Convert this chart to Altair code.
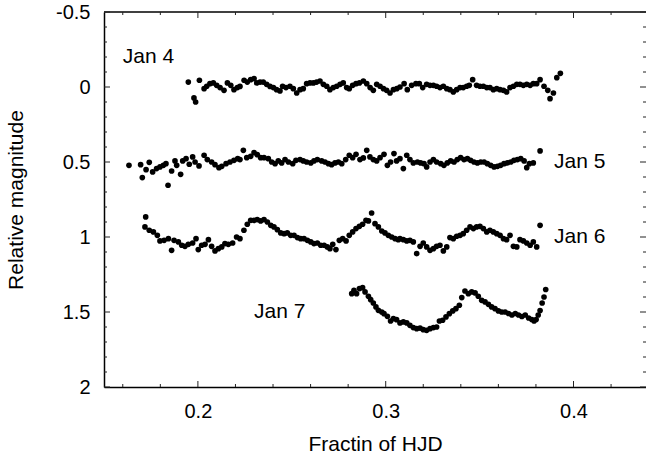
import altair as alt
import pandas as pd

FONT = "Liberation Sans"
W, H = 542, 375

# ---------------- data ----------------
jan4_x = [0.1949, 0.1979, 0.1988, 0.2008, 0.2033, 0.2047, 0.2064, 0.2082, 0.2100, 0.2118, 0.2139, 0.2157, 0.2175, 0.2192, 0.2210, 0.2224, 0.2246, 0.2263, 0.2281, 0.2299, 0.2313, 0.2331, 0.2348, 0.2366, 0.2384, 0.2402, 0.2419, 0.2437, 0.2451, 0.2469, 0.2490, 0.2508, 0.2526, 0.2544, 0.2561, 0.2579, 0.2597, 0.2615, 0.2632, 0.2650, 0.2668, 0.2686, 0.2703, 0.2721, 0.2739, 0.2757, 0.2774, 0.2792, 0.2806, 0.2824, 0.2842, 0.2860, 0.2881, 0.2899, 0.2917, 0.2934, 0.2952, 0.2970, 0.2988, 0.3005, 0.3023, 0.3041, 0.3059, 0.3076, 0.3098, 0.3115, 0.3138, 0.3161, 0.3179, 0.3197, 0.3218, 0.3236, 0.3254, 0.3271, 0.3289, 0.3307, 0.3325, 0.3342, 0.3360, 0.3378, 0.3396, 0.3413, 0.3431, 0.3445, 0.3463, 0.3484, 0.3502, 0.3520, 0.3538, 0.3555, 0.3573, 0.3591, 0.3609, 0.3627, 0.3644, 0.3662, 0.3680, 0.3698, 0.3715, 0.3733, 0.3751, 0.3769, 0.3786, 0.3804, 0.3822, 0.3843, 0.3863, 0.3875, 0.3893, 0.3911, 0.3930]
jan4_y = [-0.033, 0.073, 0.100, -0.045, 0.011, -0.005, -0.022, -0.027, -0.011, 0.004, 0.022, -0.027, -0.011, 0.018, 0.004, -0.004, -0.045, -0.033, -0.049, -0.056, -0.027, -0.033, -0.033, -0.018, -0.004, 0.004, 0.018, 0.026, -0.005, 0.004, -0.005, 0.011, 0.040, 0.018, 0.011, -0.022, -0.027, -0.027, -0.033, -0.040, -0.018, -0.005, 0.018, 0.004, -0.005, -0.018, -0.027, 0.004, 0.011, -0.011, -0.022, -0.027, -0.040, -0.022, 0.004, 0.022, -0.018, -0.005, 0.011, 0.022, 0.040, 0.018, 0.011, 0.000, -0.022, 0.018, -0.011, -0.022, -0.022, 0.004, -0.018, -0.011, -0.011, -0.005, 0.004, -0.005, 0.011, 0.018, 0.033, 0.018, 0.004, 0.004, -0.005, -0.011, -0.049, -0.011, -0.005, -0.005, 0.004, 0.004, 0.018, 0.011, 0.018, 0.022, 0.033, 0.004, -0.005, -0.018, -0.018, -0.011, -0.018, -0.011, -0.022, -0.022, -0.049, -0.005, 0.022, 0.078, 0.040, -0.062, -0.091]

jan5_x = [0.1633, 0.1695, 0.1704, 0.1724, 0.1741, 0.1759, 0.1780, 0.1798, 0.1816, 0.1830, 0.1841, 0.1860, 0.1878, 0.1887, 0.1908, 0.1919, 0.1937, 0.1954, 0.1972, 0.1985, 0.2006, 0.2033, 0.2050, 0.2073, 0.2091, 0.2112, 0.2127, 0.2150, 0.2171, 0.2192, 0.2212, 0.2224, 0.2242, 0.2260, 0.2281, 0.2299, 0.2316, 0.2334, 0.2352, 0.2375, 0.2393, 0.2411, 0.2428, 0.2446, 0.2464, 0.2482, 0.2505, 0.2522, 0.2544, 0.2561, 0.2579, 0.2601, 0.2618, 0.2636, 0.2659, 0.2677, 0.2695, 0.2712, 0.2730, 0.2748, 0.2766, 0.2787, 0.2806, 0.2824, 0.2842, 0.2863, 0.2881, 0.2899, 0.2916, 0.2934, 0.2952, 0.2970, 0.2991, 0.3009, 0.3026, 0.3044, 0.3058,
          0.3076, 0.3094, 0.3112, 0.3129, 0.3147, 0.3169, 0.3186, 0.3204, 0.3218, 0.3236, 0.3254, 0.3271, 0.3293, 0.3310, 0.3328, 0.3346, 0.3364, 0.3381, 0.3399, 0.3417, 0.3435, 0.3452, 0.3470, 0.3488, 0.3506, 0.3524, 0.3541, 0.3559, 0.3577, 0.3595, 0.3612, 0.3630, 0.3648, 0.3666, 0.3683, 0.3701, 0.3719, 0.3737, 0.3751, 0.3765, 0.3786, 0.3822]
jan5_y = [0.522, 0.518, 0.604, 0.551, 0.502, 0.566, 0.544, 0.533, 0.522, 0.511, 0.655, 0.560, 0.493, 0.522, 0.582, 0.493, 0.478, 0.515, 0.466, 0.500, 0.526, 0.455, 0.484, 0.500, 0.518, 0.538, 0.529, 0.511, 0.500, 0.489, 0.478, 0.484, 0.422, 0.471, 0.462, 0.438, 0.451, 0.471, 0.471, 0.478, 0.500, 0.511, 0.493, 0.506, 0.484, 0.500, 0.511, 0.489, 0.484, 0.493, 0.500, 0.506, 0.493, 0.484, 0.493, 0.500, 0.511, 0.518, 0.506, 0.500, 0.511, 0.484, 0.455, 0.471, 0.449, 0.484, 0.473, 0.422, 0.466, 0.484, 0.493, 0.471, 0.449, 0.522, 0.500, 0.444, 0.493,
          0.478, 0.544, 0.455, 0.484, 0.506, 0.500, 0.506, 0.511, 0.533, 0.500, 0.484, 0.500, 0.511, 0.522, 0.506, 0.493, 0.500, 0.484, 0.471, 0.484, 0.478, 0.489, 0.500, 0.506, 0.500, 0.500, 0.511, 0.522, 0.533, 0.529, 0.522, 0.511, 0.506, 0.500, 0.489, 0.484, 0.478, 0.493, 0.538, 0.511, 0.506, 0.426]

jan6_x = [0.1722, 0.1718, 0.1741, 0.1763, 0.1784, 0.1798, 0.1820, 0.1843, 0.1860, 0.1873, 0.1896, 0.1914, 0.1931, 0.1949, 0.1972, 0.1990, 0.2002, 0.2020, 0.2038, 0.2056, 0.2073, 0.2091, 0.2109, 0.2127, 0.2144, 0.2162, 0.2185, 0.2206, 0.2224, 0.2245, 0.2263, 0.2281, 0.2299, 0.2316, 0.2334, 0.2352, 0.2370, 0.2388, 0.2405, 0.2423, 0.2441, 0.2459, 0.2476, 0.2494, 0.2512, 0.2530, 0.2547, 0.2565, 0.2583, 0.2601, 0.2618, 0.2636, 0.2654, 0.2672, 0.2689, 0.2703, 0.2718, 0.2735, 0.2753, 0.2771, 0.2789, 0.2806, 0.2824, 0.2842, 0.2860, 0.2877, 0.2895, 0.2908, 0.2925, 0.2943, 0.2961, 0.2979, 0.2996, 0.3014, 0.3032, 0.3050, 0.3067,
          0.3076, 0.3094, 0.3112, 0.3129, 0.3147, 0.3165, 0.3183, 0.3200, 0.3218, 0.3236, 0.3254, 0.3271, 0.3289, 0.3307, 0.3325, 0.3342, 0.3360, 0.3378, 0.3396, 0.3413, 0.3431, 0.3449, 0.3467, 0.3484, 0.3502, 0.3520, 0.3538, 0.3555, 0.3573, 0.3591, 0.3609, 0.3627, 0.3644, 0.3662, 0.3680, 0.3698, 0.3715, 0.3733, 0.3751, 0.3769, 0.3786, 0.3804, 0.3822]
jan6_y = [0.866, 0.933, 0.955, 0.966, 0.989, 1.026, 1.022, 1.011, 1.089, 1.022, 1.033, 1.055, 1.062, 1.049, 1.040, 1.011, 1.084, 1.055, 1.049, 1.018, 1.062, 1.093, 1.078, 1.066, 1.044, 1.049, 1.040, 1.000, 1.011, 0.955, 0.915, 0.889, 0.889, 0.884, 0.893, 0.884, 0.900, 0.922, 0.933, 0.951, 0.973, 0.978, 0.973, 0.989, 0.989, 1.004, 1.011, 1.011, 1.022, 1.033, 1.044, 1.040, 1.055, 1.055, 1.066, 1.078, 1.049, 1.084, 1.022, 1.011, 1.026, 0.989, 0.966, 0.944, 0.929, 0.915, 0.889, 0.893, 0.840, 0.911, 0.933, 0.960, 0.973, 0.989, 1.000, 1.011, 1.018,
          1.011, 1.018, 1.026, 1.022, 1.033, 1.111, 1.062, 1.040, 1.066, 1.089, 1.078, 1.062, 1.055, 1.093, 1.066, 1.004, 1.011, 0.995, 0.989, 0.978, 0.955, 0.933, 0.944, 0.933, 0.929, 0.944, 0.966, 0.955, 0.966, 0.978, 0.989, 1.011, 1.018, 0.989, 1.062, 1.066, 1.018, 1.026, 1.040, 1.055, 1.033, 1.066, 0.922]

jan7_x = [0.2819, 0.2831, 0.2845, 0.2860, 0.2877, 0.2890, 0.2908, 0.2920, 0.2934, 0.2948, 0.2961, 0.2979, 0.2991, 0.3009, 0.3026, 0.3041, 0.3058, 0.3076, 0.3094, 0.3112, 0.3129, 0.3147, 0.3165, 0.3183, 0.3200, 0.3218, 0.3236, 0.3254, 0.3271, 0.3286, 0.3303, 0.3321, 0.3339, 0.3357, 0.3374, 0.3392, 0.3405, 0.3422, 0.3440, 0.3458, 0.3476, 0.3493, 0.3511, 0.3529, 0.3547, 0.3564, 0.3582, 0.3600,
          0.3618, 0.3636, 0.3654, 0.3672, 0.3690, 0.3707, 0.3725, 0.3743, 0.3761, 0.3778, 0.3790, 0.3801, 0.3812, 0.3822, 0.3833, 0.3843, 0.3852]
jan7_y = [1.378, 1.355, 1.378, 1.344, 1.338, 1.366, 1.395, 1.418, 1.440, 1.466, 1.489, 1.500, 1.511, 1.529, 1.560, 1.544, 1.551, 1.573, 1.566, 1.573, 1.589, 1.604, 1.611, 1.607, 1.618, 1.622, 1.611, 1.604, 1.600, 1.560, 1.555, 1.533, 1.511, 1.493, 1.478, 1.455, 1.404, 1.360, 1.378, 1.366, 1.373, 1.395, 1.422, 1.433, 1.449, 1.466, 1.478, 1.493,
          1.500, 1.500, 1.510, 1.520, 1.510, 1.520, 1.530, 1.520, 1.540, 1.550, 1.560, 1.550, 1.520, 1.490, 1.440, 1.400, 1.350]

ann_text = ["Jan 4", "Jan 5", "Jan 6", "Jan 7"]
ann_x = [0.160, 0.3896, 0.3896, 0.2299]
ann_y = [-0.2, 0.5, 1.0, 1.5]

x_major = [0.2, 0.3, 0.4]
x_minor = [0.16, 0.18, 0.22, 0.24, 0.26, 0.28, 0.32, 0.34, 0.36, 0.38, 0.42]
y_major = [-0.5, 0.0, 0.5, 1.0, 1.5, 2.0]
y_minor = [-0.4, -0.3, -0.2, -0.1, 0.1, 0.2, 0.3, 0.4, 0.6, 0.7, 0.8, 0.9,
           1.1, 1.2, 1.3, 1.4, 1.6, 1.7, 1.8, 1.9]


def series(xs, ys, name):
    n = min(len(xs), len(ys))
    return pd.DataFrame({"x": xs[:n], "y": ys[:n], "night": name})


pts_df = pd.concat([
    series(jan4_x, jan4_y, "Jan 4"),
    series(jan5_x, jan5_y, "Jan 5"),
    series(jan6_x, jan6_y, "Jan 6"),
    series(jan7_x, jan7_y, "Jan 7"),
], ignore_index=True)
ann_df = pd.DataFrame({"x": ann_x, "y": ann_y, "label": ann_text})

xscale = alt.Scale(domain=[0.15, 0.4386], nice=False, zero=False)
yscale = alt.Scale(domain=[-0.5, 2.0], reverse=True, nice=False, zero=False)

# the same axis objects are given to every layer so that the shared axes merge
x_axis = alt.Axis(values=x_major, title="Fractin of HJD", format=".1f",
                  titlePadding=12)
y_axis = alt.Axis(values=y_major, title="Relative magnitude",
                  labelExpr="datum.value < 0 ? '-' + format(-datum.value, '') : format(datum.value, '')",
                  titlePadding=29)


def X(field):
    return alt.X(field, scale=xscale, axis=x_axis)


def Y(field):
    return alt.Y(field, scale=yscale, axis=y_axis)


points = alt.Chart(pts_df).mark_circle(size=32, color="black", opacity=1).encode(
    x=X("x:Q"), y=Y("y:Q"),
)

labels = alt.Chart(ann_df).mark_text(
    align="left", baseline="middle", font=FONT, fontSize=21, color="black"
).encode(x=X("x:Q"), y=Y("y:Q"), text="label:N")


def xticks(vals, y0, y1):
    return alt.Chart(pd.DataFrame({"x": vals})).mark_rule(color="#222222", strokeWidth=1).encode(
        x=X("x:Q"), y=alt.value(y0), y2=alt.value(y1))


def yticks(vals, x0, x1):
    return alt.Chart(pd.DataFrame({"y": vals})).mark_rule(color="#222222", strokeWidth=1).encode(
        y=Y("y:Q"), x=alt.value(x0), x2=alt.value(x1))


top_border = alt.Chart(pd.DataFrame({"a": [0]})).mark_rule(color="black", strokeWidth=1.5).encode(
    x=alt.value(0), x2=alt.value(W), y=alt.value(0))

chart = alt.layer(
    points, labels, top_border,
    xticks(x_major, H, H - 6), xticks(x_minor, H, H - 3),
    xticks(x_major, 0, 6), xticks(x_minor, 0, 3),
    yticks(y_major, 0, 6), yticks(y_minor, 0, 3),
    yticks(y_major, W, W - 6), yticks(y_minor, W, W - 3),
).properties(
    width=W, height=H, autosize="none",
    padding={"left": 104, "top": 12, "right": 0, "bottom": 70},
).configure_view(
    stroke=None
).configure_axis(
    ticks=False, grid=False, labelPadding=14, labelFlush=False,
    labelFont=FONT, labelFontSize=20, labelColor="black",
    titleFont=FONT, titleFontSize=21, titleFontWeight="normal", titleColor="black",
    domainColor="black", domainWidth=1.5,
)

chart.save("out.html", embed_options={"renderer": "svg", "actions": False})
